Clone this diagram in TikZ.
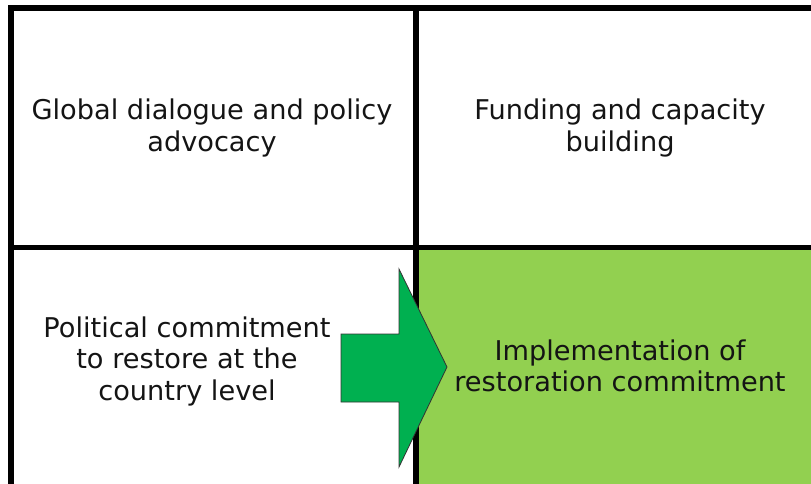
\documentclass[tikz,border=0pt]{standalone}
\usepackage{fontspec}
\setmainfont{DejaVu Sans}
\definecolor{lightgreen}{HTML}{92D050}
\definecolor{arrowgreen}{HTML}{00B050}
\begin{document}
\begin{tikzpicture}[x=1pt,y=-1pt,
  gridline/.style={line width=5.5pt,black},
  celltext/.style={align=center,inner sep=0pt,font=\fontsize{27.2}{31.5}\selectfont,text=black!92}]
\useasboundingbox (0,0) rectangle (811,484);
\fill[lightgreen] (418.5,250) rectangle (811,484);
\draw[gridline] (8.25,8) -- (811,8);
\draw[gridline] (11,5.25) -- (11,484);
\draw[gridline] (416,8) -- (416,484);
\draw[gridline] (11,247.5) -- (811,247.5);
\node[celltext] (global) at (212,128) {Global dialogue and policy\\advocacy};
\node[celltext] (funding) at (620,128) {Funding and capacity\\building};
\node[celltext] (political) at (187,361) {Political commitment\\to restore at the\\country level};
\node[celltext] (implement) at (620,366) {Implementation of\\restoration commitment};
\filldraw[fill=arrowgreen,draw=black!80,line width=0.8pt,line join=miter]
  (341,334) -- (399,334) -- (399,269) -- (447,367) -- (399,467) -- (399,402) -- (341,402) -- cycle;
\end{tikzpicture}
\end{document}
